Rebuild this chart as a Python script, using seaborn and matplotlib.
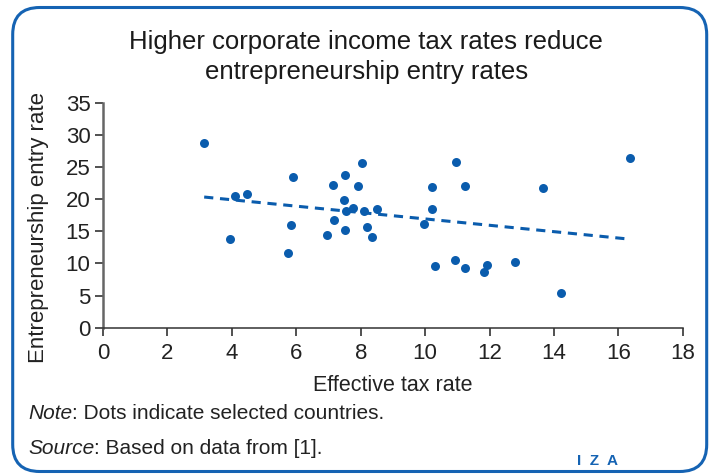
import numpy as np
import pandas as pd
import matplotlib.pyplot as plt
import seaborn as sns
from matplotlib.patches import FancyBboxPatch
from matplotlib.transforms import offset_copy

# values
tax_rate = [3.14, 4.09, 4.48, 3.94, 5.89, 5.85, 5.74, 7.14, 7.50, 7.93,
            8.05, 7.49, 7.77, 7.54, 8.10, 8.50, 7.17, 8.19, 7.50, 8.34,
            6.94, 10.21, 10.97, 11.25, 10.21, 9.97, 10.30, 10.94, 11.25, 11.84,
            11.93, 12.79, 13.66, 14.22, 16.37]
entry_rate = [28.7, 20.5, 20.9, 13.75, 23.5, 16.05, 11.6, 22.2, 23.8, 22.0,
              25.6, 19.95, 18.65, 18.1, 18.2, 18.5, 16.7, 15.7, 15.2, 14.1,
              14.4, 21.9, 25.8, 22.0, 18.55, 16.2, 9.65, 10.5, 9.3, 8.6,
              9.8, 10.3, 21.8, 5.4, 26.4]

df = pd.DataFrame({"tax": tax_rate, "entry": entry_rate})

blue = "#0a5cad"
txt = "#222222"
sns.set_style("white")
plt.rcParams["font.family"] = ["Liberation Sans", "DejaVu Sans"]

fig = plt.figure(figsize=(7.18, 4.74), dpi=100)

# rounded blue frame (in inches so the corners stay round)
frame = FancyBboxPatch((0.127, 0.025), 6.94, 4.64,
                       boxstyle="round,pad=0,rounding_size=0.27",
                       transform=fig.dpi_scale_trans, fill=False,
                       edgecolor="#1563b3", linewidth=2.2)
fig.patches.append(frame)

ax = fig.add_axes([0.1435, 0.3087, 0.8075, 0.474])

sns.regplot(data=df, x="tax", y="entry", ci=None, ax=ax,
            scatter_kws={"s": 42, "color": blue, "linewidths": 0, "alpha": 1},
            line_kws={"color": blue, "linestyle": (0, (3, 2.2)), "linewidth": 2.2})

ax.set_xlim(0, 18)
ax.set_ylim(0, 35)
ax.set_xticks(range(0, 19, 2))
ax.set_yticks(range(0, 36, 5))
ax.tick_params(axis="both", labelsize=16, colors=txt, length=6,
               width=1.1, direction="out", bottom=True, left=True, pad=3)
ax.tick_params(axis="x", pad=5)
for side in ["top", "right"]:
    ax.spines[side].set_visible(False)
ax.spines["left"].set_color("#666666")
ax.spines["left"].set_linewidth(1.8)
ax.spines["bottom"].set_color("#333333")
ax.spines["bottom"].set_linewidth(1.1)

ax.set_xlabel("Effective tax rate", fontsize=15.5, color=txt, labelpad=8)
ax.set_ylabel("Entrepreneurship entry rate", fontsize=16, color=txt)
ax.yaxis.set_label_coords(-0.094, 0.445)

fig.text(0.51, 0.88, "Higher corporate income tax rates reduce\nentrepreneurship entry rates",
         ha="center", va="center", fontsize=18.5, color="#1a1a1a", linespacing=1.3)

# footnotes: italic word followed by normal text
renderer = fig.canvas.get_renderer()
for label, rest, y in [("Note", ": Dots indicate selected countries.", 0.127),
                       ("Source", ": Based on data from [1].", 0.053)]:
    t = fig.text(0.039, y, label, style="italic", fontsize=15, color=txt, va="center")
    w = t.get_window_extent(renderer).width
    fig.text(0.039, y, rest, fontsize=15, color=txt, va="center",
             transform=offset_copy(fig.transFigure, fig=fig, x=w, y=0, units="dots"))

fig.text(0.832, 0.012, "I  Z  A", fontsize=11, fontweight="bold", color="#1563b3",
         va="bottom", ha="center")

fig.savefig("out.png", dpi=100)
